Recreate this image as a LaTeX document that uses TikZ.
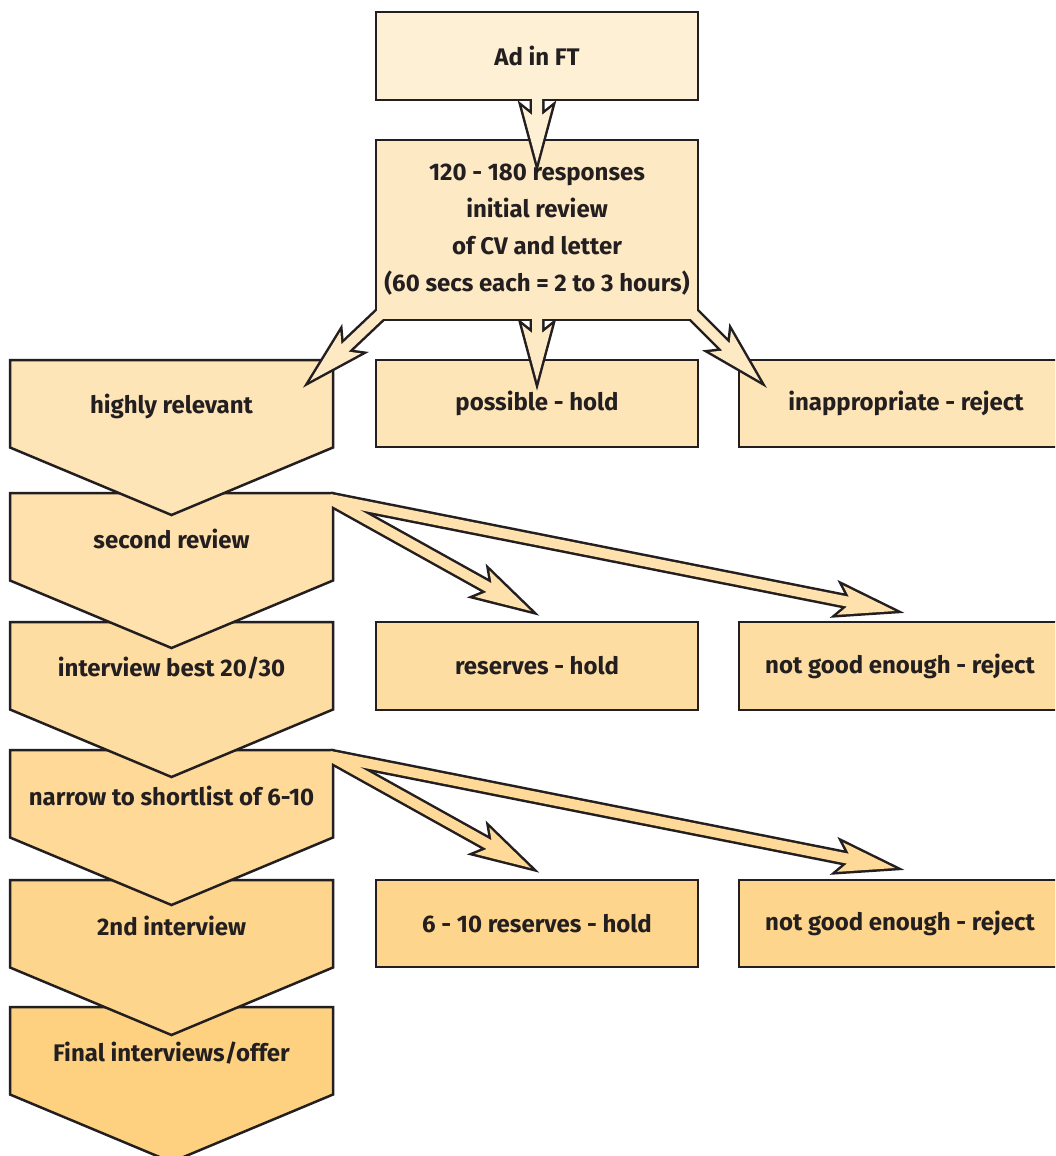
\documentclass[tikz,border=0pt]{standalone}
\usepackage{fontspec}
\setmainfont{Fira Sans}
\usetikzlibrary{calc}
\definecolor{ln}{HTML}{231F20}
\definecolor{c0}{HTML}{FEF0D5}
\definecolor{c1}{HTML}{FEE9C5}
\definecolor{c2}{HTML}{FEE5B7}
\definecolor{c3}{HTML}{FEE1AC}
\definecolor{c4}{HTML}{FEDDA2}
\definecolor{c5}{HTML}{FED998}
\definecolor{c6}{HTML}{FED58D}
\definecolor{c7}{HTML}{FDD17F}
\tikzset{
  lbl/.style={font=\bfseries\fontsize{24}{37}\selectfont, text=ln, align=center, inner sep=0pt},
  box/.style={lbl, draw=ln, line width=2.5pt, inner sep=0pt},
  shp/.style={draw=ln, line width=2.5pt, line join=miter},
  arrline/.style={draw=ln, line width=5pt, line join=miter},
}
\newcommand\arrdef[3]{\coordinate (#1s) at #2; \coordinate (#1t) at #3;
  \coordinate (#1n) at ($(#1t)!48pt!(#1s)$);
  \coordinate (#1b) at ($(#1t)!56pt!(#1s)$);}
\newcommand\arrside[1]{($(#1s)!5pt!90:(#1t)$) -- ($(#1n)!5pt!90:(#1t)$) -- ($(#1b)!15pt!90:(#1t)$) -- (#1t) -- ($(#1b)!15pt!-90:(#1t)$) -- ($(#1n)!5pt!-90:(#1t)$) -- ($(#1s)!5pt!-90:(#1t)$)}
\newcommand\arrpath[1]{\arrside{#1} -- cycle}
\newcommand\chev[4]{%
  \draw[shp, fill=#3] (10,#2) -- (333,#2) -- (333,#2+87.5) -- (171.5,#2+155) -- (10,#2+87.5) -- cycle;
  \node[lbl] (#1) at (171.5,#2+46) {#4};}
\begin{document}
\begin{tikzpicture}[x=1pt,y=-1pt]
\clip (0,0) rectangle (1055,1156);
\fill[white] (0,0) rectangle (1055,1156);
% bottom rows first
\chev{final}{1007}{c7}{Final interviews/offer}
\chev{second}{880}{c6}{2nd interview}
\node[box, fill=c6, minimum width=322pt, minimum height=87pt] (res2) at (537,923.5) {6 - 10 reserves - hold};
\node[box, fill=c6, minimum width=322pt, minimum height=87pt] (rej3) at (900,923.5) {not good enough - reject};
% narrow fork
\arrdef{na}{(330,756)}{(895,868)}
\arrdef{nb}{(330,756)}{(531,868)}
\draw[arrline] \arrside{na}; \draw[arrline] \arrside{nb};
\chev{narrow}{750}{c5}{narrow to shortlist of 6-10}
\fill[c5] \arrpath{na}; \fill[c5] \arrpath{nb};
\chev{interv}{622}{c4}{interview best 20/30}
\node[box, fill=c4, minimum width=322pt, minimum height=88pt] (res1) at (537,666) {reserves - hold};
\node[box, fill=c4, minimum width=322pt, minimum height=88pt] (rej2) at (900,666) {not good enough - reject};
% second review fork
\arrdef{sa}{(330,499)}{(895,611)}
\arrdef{sb}{(330,499)}{(531,611)}
\draw[arrline] \arrside{sa}; \draw[arrline] \arrside{sb};
\chev{review}{493}{c3}{second review}
\fill[c3] \arrpath{sa}; \fill[c3] \arrpath{sb};
\chev{high}{360}{c2}{highly relevant}
\node[box, fill=c2, minimum width=322pt, minimum height=87pt] (poss) at (537,403.5) {possible - hold};
\node[box, fill=c2, minimum width=334pt, minimum height=87pt] (inap) at (906,403.5) {inappropriate - reject};
% arrows from responses box
\arrdef{ra}{(384,311)}{(310,381)}
\arrdef{rb}{(537,312)}{(537,381)}
\arrdef{rc}{(690,311)}{(760,381)}
\draw[arrline] \arrside{ra}; \draw[arrline] \arrside{rb}; \draw[arrline] \arrside{rc};
\node[box, fill=c1, minimum width=322pt, minimum height=180pt] (resp) at (537,230)
  {120 - 180 responses\\initial review\\of CV and letter\\(60 secs each = 2 to 3 hours)};
\fill[c1] \arrpath{ra}; \fill[c1] \arrpath{rb}; \fill[c1] \arrpath{rc};
\arrdef{aa}{(537,94)}{(537,163)}
\draw[arrline] \arrside{aa};
\node[box, fill=c0, minimum width=322pt, minimum height=88pt] (ad) at (537,56) {Ad in FT};
\fill[c0] \arrpath{aa};
\end{tikzpicture}
\end{document}
